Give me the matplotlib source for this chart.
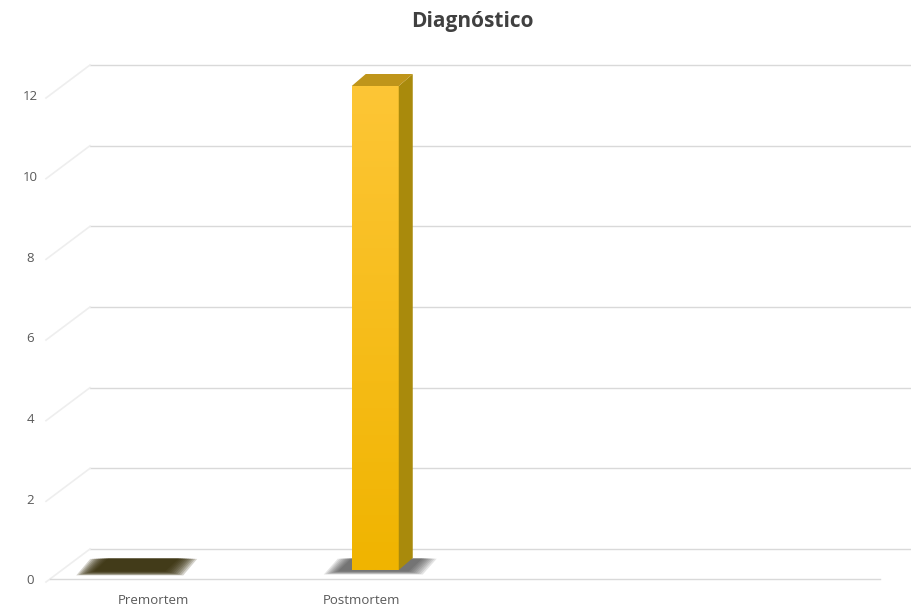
import numpy as np
import matplotlib.pyplot as plt
from matplotlib.patches import Polygon
from matplotlib.colors import LinearSegmentedColormap

categories = ['Premortem', 'Postmortem']
values = [0, 12]
y_ticks = [0, 2, 4, 6, 8, 10, 12]
title = 'Diagnóstico'

n_slots = 4          # the plot area keeps room for four categories
W, H = 911, 612

plt.rcParams['font.family'] = ['Open Sans', 'DejaVu Sans']

fig = plt.figure(figsize=(W / 100, H / 100), dpi=100)
ax_l, ax_b, ax_w, ax_h = 50, 33, 830, 484
ax = fig.add_axes([ax_l / W, ax_b / H, ax_w / W, ax_h / H])
ax.set_xlim(-0.5, n_slots - 0.5)
ax.set_ylim(0, max(y_ticks))
ax.axis('off')

# pixels -> data units
sx = ax_w / n_slots
sy = ax_h / max(y_ticks)
def px(dx, dy):
    return dx / sx, dy / sy

wall_dx, wall_dy = px(40, 30)      # front plane -> back wall
bar_dx, bar_dy = px(14, 9)         # front plane -> bar front face
dep_dx, dep_dy = px(14, 12)        # bar depth
bar_w = 47 / sx

x0, x1 = ax.get_xlim()
grid_c = '#d9d9d9'

# back wall gridlines + left wall diagonals
for v in y_ticks:
    ax.plot([x0 + wall_dx, x1 + wall_dx], [v + wall_dy, v + wall_dy],
            color=grid_c, lw=1, clip_on=False, zorder=1)
    ax.plot([x0 - px(4, 0)[0], x0 + wall_dx], [v - px(0, 3)[1], v + wall_dy],
            color='#eeeeee', lw=1.2, clip_on=False, zorder=1)
# floor front edge
ax.plot([x0, x1], [0, 0], color=grid_c, lw=1, clip_on=False, zorder=1)

grad = np.linspace(0, 1, 256).reshape(-1, 1)
front_cmap = LinearSegmentedColormap.from_list('front', ['#f0b400', '#fdc636'])

for i, v in enumerate(values):
    bx0 = i + bar_dx - bar_w / 2
    bx1 = bx0 + bar_w
    by0 = bar_dy
    by1 = bar_dy + v

    # soft shadow on the floor
    if v > 0:
        shift, col, n, a = 0, '#333333', 8, 0.13
    else:
        shift, col, n, a = px(-36, 0)[0], '#2e2500', 10, 0.2
    for k in range(n):
        g = (n - k) * 2.0
        ex, ey = px(g, g * 0.22)
        sxa = bx0 + shift - px(12, 0)[0] - ex
        sxb = bx1 + shift + px(8, 0)[0] + ex
        sya = by0 - px(0, 1)[1] - ey
        syb = by0 + dep_dy - ey * 0.2
        shadow = Polygon([(sxa, sya), (sxb, sya), (sxb + dep_dx, syb),
                          (sxa + dep_dx, syb)], closed=True,
                         facecolor=col, edgecolor='none', alpha=a,
                         clip_on=False, zorder=2)
        ax.add_patch(shadow)

    if v == 0:
        continue

    # front face with a light gradient
    im = ax.imshow(grad, cmap=front_cmap, aspect='auto', origin='lower',
                   extent=[bx0, bx1, by0, by1], zorder=4)
    im.set_clip_on(False)
    side = Polygon([(bx1, by0), (bx1 + dep_dx, by0 + dep_dy),
                    (bx1 + dep_dx, by1 + dep_dy), (bx1, by1)], closed=True,
                   facecolor='#a98a0c', edgecolor='none', clip_on=False, zorder=4)
    top = Polygon([(bx0, by1), (bx0 + dep_dx, by1 + dep_dy),
                   (bx1 + dep_dx, by1 + dep_dy), (bx1, by1)], closed=True,
                  facecolor='#bf951a', edgecolor='none', clip_on=False, zorder=4)
    ax.add_patch(side)
    ax.add_patch(top)

ax.set_xlim(x0, x1)
ax.set_ylim(0, max(y_ticks))

# axis labels
for v in y_ticks:
    ax.text(x0 - 20 / sx, v - 2 / sy, str(v), ha='center', va='center',
            fontsize=9.5, color='#595959', clip_on=False)
for i, c in enumerate(categories):
    ax.text(i, -22 / sy, c, ha='center', va='center', fontsize=9.5,
            color='#595959', clip_on=False)

fig.text(472 / W, 1 - 22 / H, title, ha='center', va='center',
         fontsize=15, fontweight='bold', color='#404040')

fig.savefig('out.png', dpi=100)
